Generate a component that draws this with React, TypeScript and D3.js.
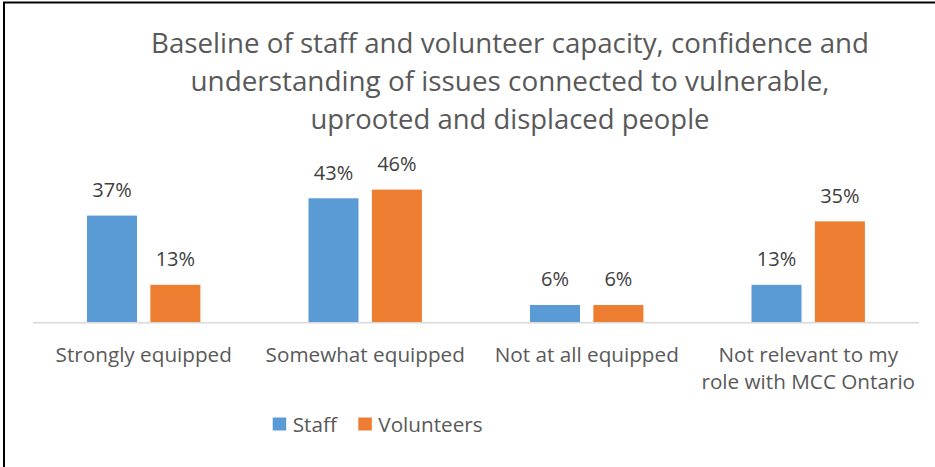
import React from "react";
import * as d3 from "d3";

const categories: string[][] = [
  ["Strongly equipped"],
  ["Somewhat equipped"],
  ["Not at all equipped"],
  ["Not relevant to my", "role with MCC Ontario"],
];
const seriesNames = ["Staff", "Volunteers"];
const staffValues = [37, 43, 6, 13];
const volunteerValues = [13, 46, 6, 35];
const titleLines = [
  "Baseline of staff and volunteer capacity, confidence and",
  "understanding of issues connected to vulnerable,",
  "uprooted and displaced people",
];
const colors = ["#5B9BD5", "#ED7D31"];

const W = 935;
const H = 467;
const FONT = "'Open Sans', 'Noto Sans', sans-serif";

export default function App() {
  const catKeys = categories.map((c) => c.join(" "));
  const x0 = d3.scaleBand<string>().domain(catKeys).range([33, 919]).paddingInner(0).paddingOuter(0);
  const x1 = d3
    .scaleBand<string>()
    .domain(seriesNames)
    .range([54, 54 + 113.4])
    .paddingInner(0.211)
    .paddingOuter(0);
  const y = d3.scaleLinear().domain([0, 50]).range([322.3, 178.1]);
  const series = [staffValues, volunteerValues];

  const titleWidths = [718, 639, 399];
  const titleX = 510;
  const titleBaselines = [53.3, 91.2, 129];

  return (
    <svg
      width={W}
      height={H}
      style={{ position: "absolute", left: 0, top: 0, background: "#fff" }}
      fontFamily={FONT}
    >
      <rect x={0} y={0} width={W} height={H} fill="#fff" />
      {/* border */}
      <line x1={3} x2={W} y1={2.5} y2={2.5} stroke="#000" strokeWidth={2} />
      <line x1={4} x2={4} y1={2} y2={H} stroke="#000" strokeWidth={2} />

      {/* title */}
      {titleLines.map((t, i) => (
        <text
          key={i}
          x={titleX}
          y={titleBaselines[i]}
          textAnchor="middle"
          fontSize={27}
          fill="#595959"
          textLength={titleWidths[i]}
          lengthAdjust="spacingAndGlyphs"
        >
          {t}
        </text>
      ))}

      {/* bars */}
      {catKeys.map((c, ci) => (
        <g key={c} transform={`translate(${x0(c)},0)`}>
          {seriesNames.map((s, si) => {
            const v = series[si][ci];
            const bx = x1(s)!;
            const bw = x1.bandwidth();
            return (
              <g key={s}>
                <rect
                  x={bx}
                  y={y(v)}
                  width={bw}
                  height={y(0) - y(v)}
                  fill={colors[si]}
                />
                <text
                  x={bx + bw / 2}
                  y={y(v) - 18.5}
                  textAnchor="middle"
                  fontSize={20}
                  fill="#404040"
                >
                  {v}%
                </text>
              </g>
            );
          })}
        </g>
      ))}

      {/* baseline */}
      <line x1={33} x2={919} y1={322.8} y2={322.8} stroke="#D9D9D9" strokeWidth={1.5} />

      {/* category labels */}
      {categories.map((lines, ci) => (
        <text
          key={ci}
          x={x0(catKeys[ci])! + x0.bandwidth() / 2}
          y={361.5}
          textAnchor="middle"
          fontSize={20.7}
          fill="#595959"
        >
          {lines.map((l, li) => (
            <tspan key={li} x={x0(catKeys[ci])! + x0.bandwidth() / 2} dy={li === 0 ? 0 : 27.5}>
              {l}
            </tspan>
          ))}
        </text>
      ))}

      {/* legend */}
      {seriesNames.map((s, si) => {
        const lx = [272.7, 358.3][si];
        return (
          <g key={s}>
            <rect x={lx} y={417.5} width={13.5} height={13} fill={colors[si]} />
            <text x={lx + 20} y={431.5} fontSize={20.7} fill="#595959">
              {s}
            </text>
          </g>
        );
      })}
    </svg>
  );
}
